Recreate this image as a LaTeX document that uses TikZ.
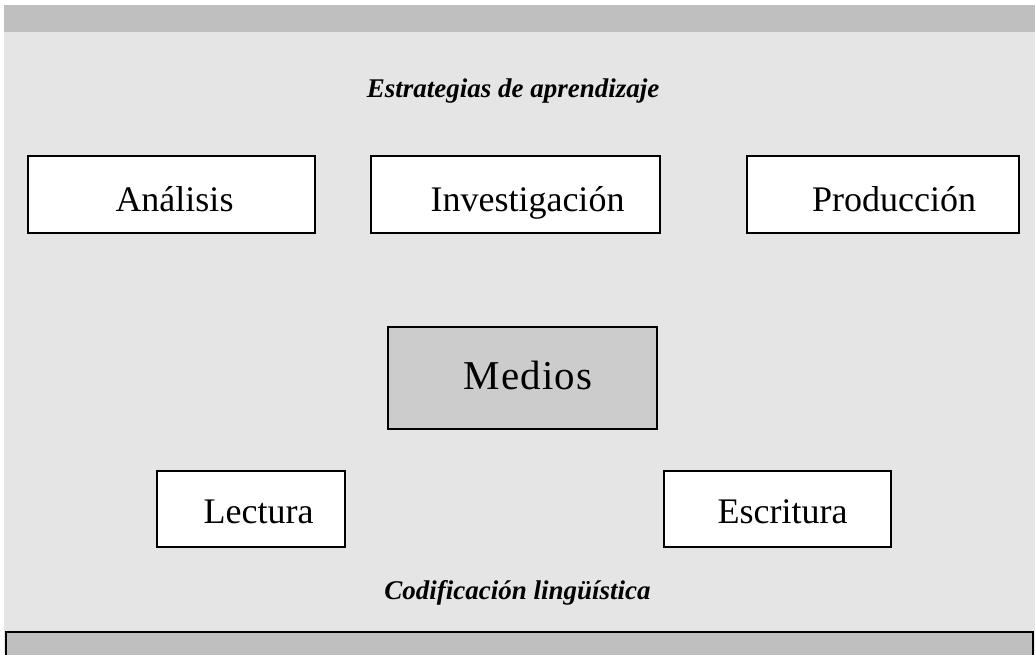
\documentclass[tikz,border=0pt]{standalone}
\usepackage{fontspec}
\setmainfont{Liberation Serif}
\newfontfamily\medfont[LetterSpace=3]{Liberation Serif}
\definecolor{bandgray}{HTML}{BFBFBF}
\definecolor{bggray}{HTML}{E5E5E5}
\definecolor{medgray}{HTML}{CCCCCC}
\begin{document}
\begin{tikzpicture}[x=1pt,y=-1pt,
  box/.style={draw=black,line width=1.6pt,fill=white},
  lbl/.style={anchor=base,inner sep=0pt,font=\fontsize{36}{40}\selectfont},
  ttl/.style={anchor=base,inner sep=0pt,font=\fontsize{27}{30}\selectfont\bfseries\itshape}]
\useasboundingbox (0,0) rectangle (1035,654);
\fill[white] (0,0) rectangle (1035,654);
\fill[bggray] (4,32) rectangle (1035,654);
\fill[bandgray] (4,5) rectangle (1035,32);
\draw[line width=1.6pt,fill=bandgray] (6,660) -- (6,632) -- (1033,632) -- (1033,660);
% boxes
\draw[box] (28,156) rectangle (315,233);
\draw[box] (371,156) rectangle (660,233);
\draw[box] (747,156) rectangle (1019,233);
\draw[box,fill=medgray] (388,327) rectangle (657,429);
\draw[box] (157,471) rectangle (345,547);
\draw[box] (664,471) rectangle (891,547);
% texts
\node[ttl] (t1) at (513,97) {Estrategias de aprendizaje};
\node[ttl] (t2) at (517.5,599) {Codificación lingüística};
\node[lbl] (analisis) at (174.5,211) {Análisis};
\node[lbl] (invest) at (527.5,211) {Investigación};
\node[lbl] (prod) at (894,211) {Producción};
\node[lbl,font=\fontsize{41}{44}\medfont] (medios) at (528,389) {Medios};
\node[lbl] (lectura) at (258.5,523) {Lectura};
\node[lbl] (escritura) at (782.5,523) {Escritura};
\end{tikzpicture}
\end{document}
